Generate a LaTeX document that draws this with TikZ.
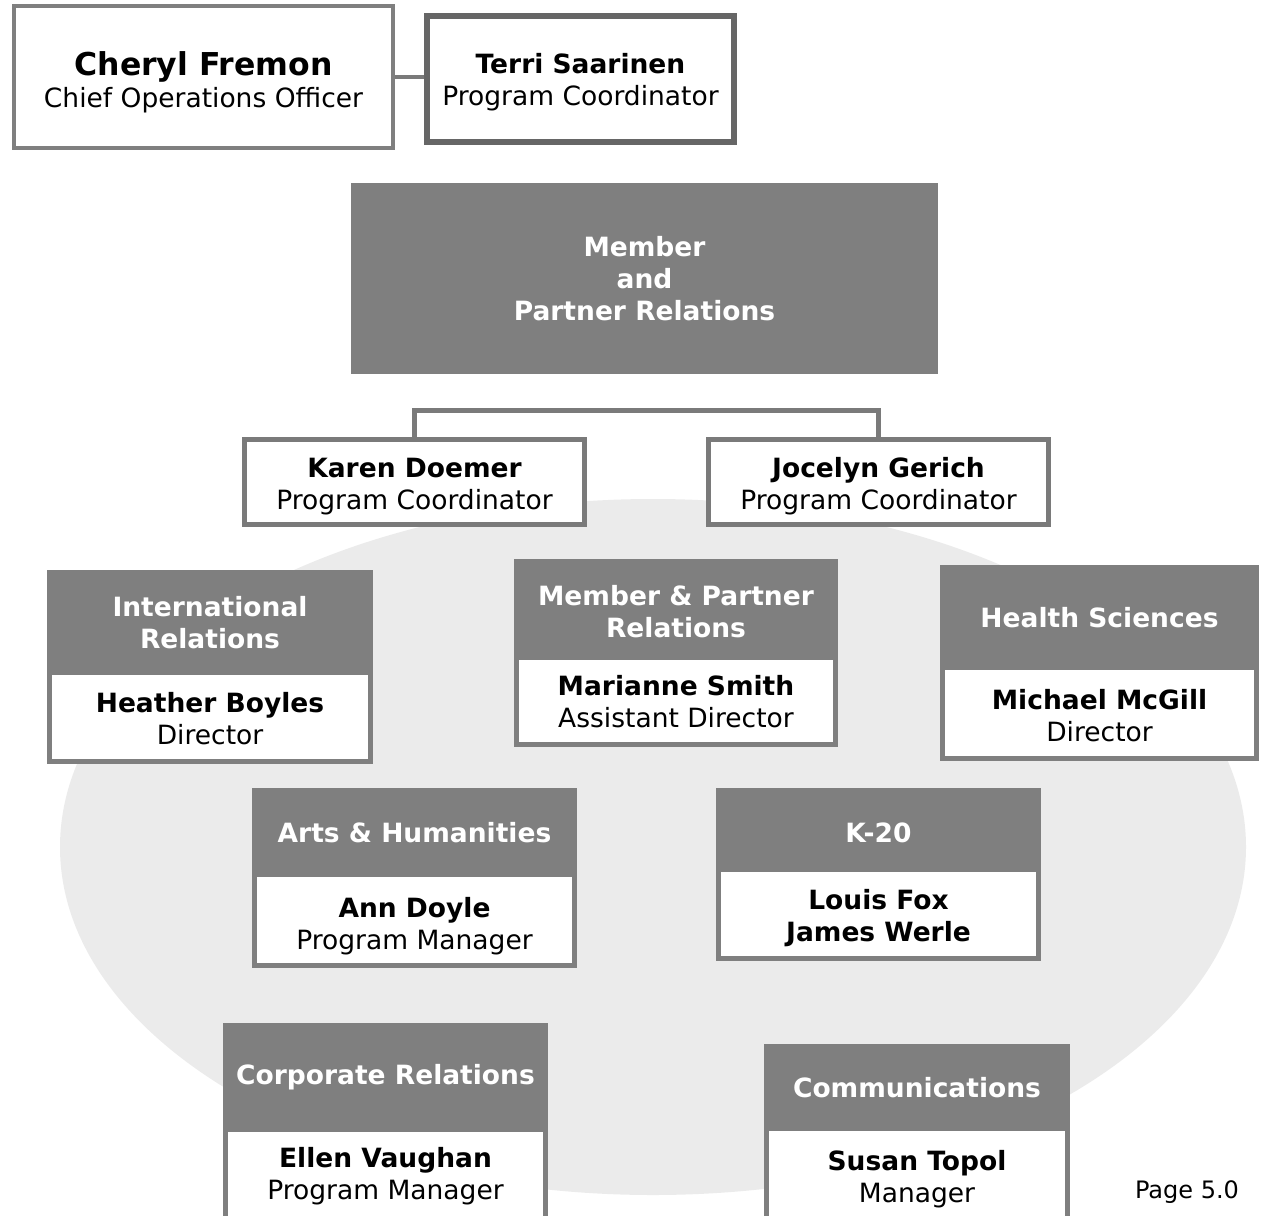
\documentclass[tikz,border=0pt]{standalone}
\usepackage{fontspec}
\setmainfont{DejaVu Sans}
\definecolor{boxgray}{HTML}{7F7F7F}
\definecolor{framegray}{HTML}{7A7A7A}
\definecolor{darkframe}{HTML}{666666}
\definecolor{ovalgray}{HTML}{EBEBEB}
% pushes a node's text down by #1 pt
\newcommand{\lowerby}[1]{\rule{0pt}{\dimexpr 20pt+#1pt*2\relax}}
\begin{document}
\begin{tikzpicture}[x=1pt,y=-1pt,line join=miter,
		every node/.style={inner sep=0pt,align=center,font=\fontsize{26.5}{32}\selectfont},
		person/.style={draw=framegray,line width=5pt,fill=white},
		headbox/.style={fill=boxgray,text=white,font=\fontsize{26.5}{32}\selectfont\bfseries},
		unitbody/.style={draw=boxgray,line width=5pt,fill=white},
		link/.style={draw=framegray,line width=5pt}]
		\useasboundingbox (0,0) rectangle (1265,1215);
		\clip (0,0) rectangle (1265,1215);
		% background oval
		\fill[ovalgray] (653,847) ellipse [x radius=593, y radius=348];
		% top line
		\node[person,line width=4pt,draw=boxgray,minimum width=379pt,minimum height=142pt] (coo) at (203.5,77)
			{\rule{0pt}{34pt}{\fontsize{31.5}{34}\selectfont\bfseries Cheryl Fremon}\\Chief Operations Officer};
		\node[person,line width=6pt,draw=darkframe,minimum width=307pt,minimum height=126pt] (coord) at (580.5,79)
			{\lowerby{3.5}\textbf{Terri Saarinen}\\Program Coordinator};
		\draw[link,line width=4pt] (coo.east) -- (coo.east -| coord.west);
		% department
		\node[fill=boxgray,text=white,font=\fontsize{26.5}{32}\selectfont\bfseries,minimum width=587pt,minimum height=191pt] (mpr) at (644.5,278.5)
			{Member\\and\\Partner Relations};
		\node[person,minimum width=340pt,minimum height=85pt] (karen) at (414.5,482)
			{\lowerby{4.5}\textbf{Karen Doemer}\\Program Coordinator};
		\node[person,minimum width=340pt,minimum height=85pt] (jocelyn) at (878.5,482)
			{\lowerby{4.5}\textbf{Jocelyn Gerich}\\Program Coordinator};
		\coordinate (bus) at (646,410);
		\draw[link] (karen.north) |- (bus) -| (jocelyn.north);
		% units
		\node[unitbody,minimum width=321pt,minimum height=89pt] (intlbody) at (210,717)
			{\lowerby{2}\textbf{Heather Boyles}\\Director};
		\node[headbox,minimum width=326pt,minimum height=105pt] (intl) at (210,622.5)
			{International\\Relations};
		\node[unitbody,minimum width=319pt,minimum height=87pt] (mprbody) at (676,701)
			{\lowerby{1}\textbf{Marianne Smith}\\Assistant Director};
		\node[headbox,minimum width=324pt,minimum height=101pt] (mprunit) at (676,609.5)
			{\lowerby{2}Member \& Partner\\Relations};
		\node[unitbody,minimum width=314pt,minimum height=91pt] (healthbody) at (1099.5,713)
			{\lowerby{3}\textbf{Michael McGill}\\Director};
		\node[headbox,minimum width=319pt,minimum height=105pt] (health) at (1099.5,617.5)
			{Health Sciences};
		\node[unitbody,minimum width=320pt,minimum height=91pt] (artsbody) at (414.5,920)
			{\lowerby{6}\textbf{Ann Doyle}\\Program Manager};
		\node[headbox,minimum width=325pt,minimum height=89pt] (arts) at (414.5,832.5)
			{Arts \& Humanities};
		\node[unitbody,minimum width=320pt,minimum height=89pt] (kbody) at (878.5,914)
			{\lowerby{4}\textbf{Louis Fox}\\\textbf{James Werle}};
		\node[headbox,minimum width=325pt,minimum height=84pt] (k20) at (878.5,830)
			{\lowerby{3}K-20};
		\node[unitbody,minimum width=320pt,minimum height=89pt] (corpbody) at (385.5,1174)
			{\lowerby{2}\textbf{Ellen Vaughan}\\Program Manager};
		\node[headbox,minimum width=325pt,minimum height=109pt] (corp) at (385.5,1077.5)
			{Corporate Relations};
		\node[unitbody,minimum width=301pt,minimum height=97pt] (commbody) at (917,1177)
			{\lowerby{2}\textbf{Susan Topol}\\Manager};
		\node[headbox,minimum width=306pt,minimum height=87pt] (comm) at (917,1087.5)
			{Communications};
		\node[font=\fontsize{24}{28}\selectfont] (page) at (1187,1192) {Page 5.0};
\end{tikzpicture}
\end{document}
